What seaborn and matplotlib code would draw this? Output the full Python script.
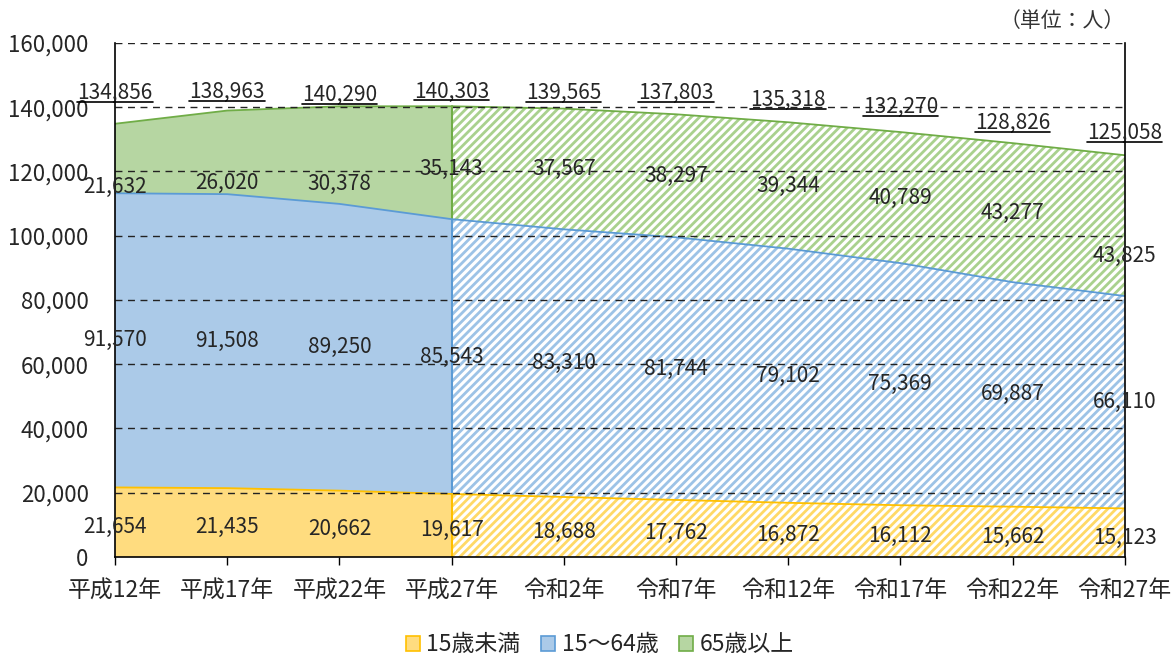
import numpy as np
import pandas as pd
import seaborn as sns
import matplotlib.pyplot as plt
from matplotlib.lines import Line2D
from matplotlib.patches import Patch

years = ['平成12年', '平成17年', '平成22年', '平成27年', '令和2年',
         '令和7年', '令和12年', '令和17年', '令和22年', '令和27年']
under15 = [21654, 21435, 20662, 19617, 18688, 17762, 16872, 16112, 15662, 15123]
working = [91570, 91508, 89250, 85543, 83310, 81744, 79102, 75369, 69887, 66110]
elderly = [21632, 26020, 30378, 35143, 37567, 38297, 39344, 40789, 43277, 43825]
totals = [134856, 138963, 140290, 140303, 139565, 137803, 135318, 132270, 128826, 125058]
series_names = ['15歳未満', '15～64歳', '65歳以上']

sns.set_theme(style='white')
plt.rcParams['font.family'] = ['Noto Sans CJK JP', 'DejaVu Sans']
plt.rcParams['hatch.linewidth'] = 2.0

x = np.arange(len(years))
b1 = np.array(under15)
b2 = b1 + np.array(working)
b3 = b2 + np.array(elderly)
split = 3  # 平成27年 onwards is projection (hatched)

fig = plt.figure(figsize=(11.74, 6.58), dpi=100)
ax = fig.add_axes([0.098, 0.1535, 0.86, 0.7812])

# (bottom, top, solid fill, edge line, hatch colour)
layers = [
    (np.zeros(len(x)), b1, '#FFDC7F', '#FFC000', '#FFD966'),
    (b1, b2, '#ABCAE8', '#5B9BD5', '#9DC3E6'),
    (b2, b3, '#B6D6A2', '#70AD47', '#A9D18E'),
]
for lo, hi, fill, edge, hatchc in layers:
    ax.fill_between(x[:split + 1], lo[:split + 1], hi[:split + 1],
                    facecolor=fill, edgecolor='none', linewidth=0, zorder=1)
    ax.fill_between(x[split:], lo[split:], hi[split:], facecolor='white',
                    edgecolor=hatchc, hatch='////', linewidth=0, zorder=1)
    ax.plot([x[split], x[split]], [lo[split], hi[split]], color=edge, lw=1.5, zorder=2)

df = pd.DataFrame({'x': np.tile(x, 3),
                   'y': np.concatenate([b1, b2, b3]),
                   'layer': np.repeat(series_names, len(x))})
sns.lineplot(data=df, x='x', y='y', hue='layer', palette=['#FFC000', '#5B9BD5', '#70AD47'],
             linewidth=1.3, legend=False, ax=ax, zorder=2)

ax.set_xlim(0, len(x) - 1)
ax.set_ylim(0, 160000)
ax.set_yticks(np.arange(0, 160001, 20000))
ax.set_yticklabels([f'{v:,}' for v in range(0, 160001, 20000)], fontsize=16)
ax.set_xticks(x)
ax.set_xticklabels(years, fontsize=16.5)
ax.tick_params(axis='x', direction='out', length=6, width=1, color='black', bottom=True, pad=10)
ax.tick_params(axis='y', length=0, pad=19)
ax.set_xlabel('')
ax.set_ylabel('')
for v in range(20000, 160001, 20000):
    ax.axhline(v, color='#222222', lw=1.0, ls=(0, (5, 4)), zorder=3)
for s in ['left', 'right', 'bottom']:
    ax.spines[s].set_visible(True)
    ax.spines[s].set_color('black')
    ax.spines[s].set_linewidth(1.2)
    ax.spines[s].set_zorder(4)
ax.spines['top'].set_visible(False)
ax.patch.set_alpha(0)

fs = 15
old_dy = [-9000, -9500, -9000, -2000, 0, 0, 0, 0, 0, -9500]
for i in x:
    ax.text(i, b1[i] / 2 - 1500, f'{under15[i]:,}', ha='center', va='center', fontsize=fs, zorder=5)
    ax.text(i, b1[i] + working[i] / 2, f'{working[i]:,}', ha='center', va='center', fontsize=fs, zorder=5)
    ax.text(i, b2[i] + elderly[i] / 2 + old_dy[i], f'{elderly[i]:,}', ha='center', va='center',
            fontsize=fs, zorder=5)

tot_y = [144400, 144700, 143800, 144900, 144400, 144400, 142300, 140100, 135100, 132000]
tot_texts = []
for i in x:
    t = ax.text(i, tot_y[i], f'{totals[i]:,}', ha='center', va='center', fontsize=fs, zorder=5)
    tot_texts.append(t)

fig.text(0.958, 0.968, '（単位：人）', ha='right', va='center', fontsize=15, color='#333333')

handles = [Patch(facecolor=f, edgecolor=e, linewidth=1.2) for _, _, f, e, _ in layers]
fig.legend(handles, series_names, loc='center', bbox_to_anchor=(0.511, 0.02), ncol=3,
           frameon=False, fontsize=16.5, handlelength=0.6, handleheight=0.6,
           handletextpad=0.3, columnspacing=0.9)

# underline the total labels
fig.canvas.draw()
r = fig.canvas.get_renderer()
inv = fig.transFigure.inverted()
for t in tot_texts:
    bb = t.get_window_extent(r)
    (x0, y0), (x1_, _) = inv.transform([(bb.x0, bb.y0 + 2), (bb.x1, bb.y0 + 2)])
    fig.add_artist(Line2D([x0, x1_], [y0, y0], color='black', lw=1.2, transform=fig.transFigure))

fig.savefig('out.png', dpi=100)
